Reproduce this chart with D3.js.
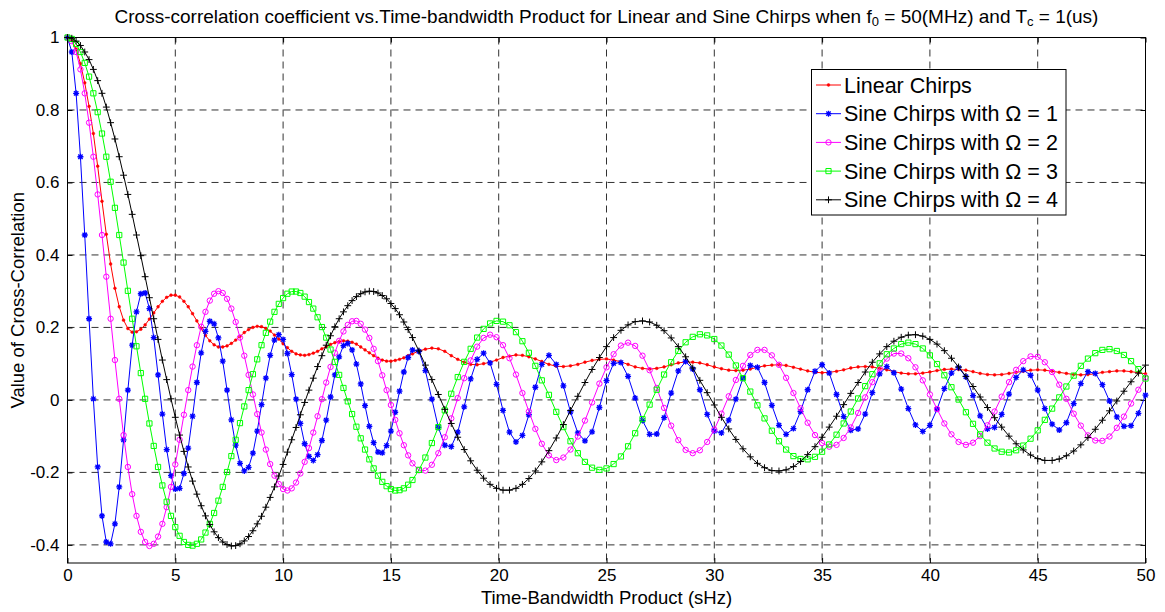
<!DOCTYPE html>
<html>
<head>
<meta charset="utf-8">
<script src="https://cdn.jsdelivr.net/npm/d3@7"></script>
<style>
  body { margin: 0; background: #fff; }
  text { font-family: "Liberation Sans", Arial, Helvetica, sans-serif; }
</style>
</head>
<body>
<div id="chart"></div>
<script>
//time-bandwidth product samples (sHz)
var tbp = [
  0,0.2,0.4,0.6,0.8,1,1.2,1.4,1.6,1.8,
  2,2.2,2.4,2.6,2.8,3,3.2,3.4,3.6,3.8,
  4,4.2,4.4,4.6,4.8,5,5.2,5.4,5.6,5.8,
  6,6.2,6.4,6.6,6.8,7,7.2,7.4,7.6,7.8,
  8,8.2,8.4,8.6,8.8,9,9.2,9.4,9.6,9.8,
  10,10.2,10.4,10.6,10.8,11,11.2,11.4,11.6,11.8,
  12,12.2,12.4,12.6,12.8,13,13.2,13.4,13.6,13.8,
  14,14.2,14.4,14.6,14.8,15,15.2,15.4,15.6,15.8,
  16,
  16.3,16.6,16.9,17.2,17.5,17.8,18.1,18.4,18.7,19,
  19.3,19.6,19.9,20.2,20.5,20.8,21.1,21.4,21.7,22,
  22.33,22.67,23,23.33,23.67,24,24.33,24.67,25,25.33,25.67,26,
  26.33,26.67,27,27.33,27.67,28,28.33,28.67,29,29.33,29.67,30,
  30.33,30.67,31,31.33,31.67,32,32.33,32.67,33,33.33,33.67,34,
  34.33,34.67,35,35.33,35.67,36,36.33,36.67,37,37.33,37.67,38,
  38.33,38.67,39,39.33,39.67,40,40.33,40.67,41,41.33,41.67,42,
  42.33,42.67,43,43.33,43.67,44,44.33,44.67,45,45.33,45.67,46,
  46.33,46.67,47,47.33,47.67,48,48.33,48.67,49,49.33,49.67,50
];

var linearChirp = [
  1,0.992,0.968,0.928,0.875,0.81,0.735,0.645,0.548,0.457,
  0.375,0.308,0.257,0.22,0.197,0.187,0.188,0.195,0.207,0.223,
  0.24,0.257,0.272,0.283,0.289,0.289,0.284,0.272,0.257,0.238,
  0.218,0.197,0.178,0.163,0.152,0.146,0.146,0.149,0.156,0.165,
  0.175,0.186,0.194,0.2,0.203,0.202,0.197,0.19,0.179,0.168,
  0.155,0.144,0.134,0.127,0.124,0.123,0.125,0.129,0.134,0.141,
  0.147,0.153,0.158,0.161,0.163,0.162,0.159,0.154,0.146,0.138,
  0.13,0.122,0.115,0.11,0.107,0.107,0.109,0.112,0.116,0.122,
  0.127,
  0.135,0.14,0.143,0.141,0.134,0.122,0.112,0.104,0.098,0.097,
  0.1,0.104,0.11,0.117,0.121,0.124,0.123,0.119,0.113,0.106,
  0.098,0.093,0.092,0.094,0.098,0.104,0.109,0.112,0.113,0.11,0.105,0.098,
  0.091,0.087,0.085,0.087,0.091,0.097,0.102,0.105,0.104,0.102,0.097,0.091,
  0.086,0.082,0.081,0.082,0.085,0.09,0.094,0.096,0.097,0.095,0.09,0.085,
  0.08,0.076,0.075,0.076,0.079,0.083,0.088,0.091,0.092,0.091,0.087,0.083,
  0.078,0.074,0.072,0.072,0.074,0.077,0.081,0.084,0.085,0.084,0.082,0.078,
  0.073,0.07,0.069,0.07,0.073,0.076,0.079,0.082,0.083,0.082,0.079,0.076,
  0.073,0.07,0.069,0.07,0.072,0.076,0.078,0.08,0.08,0.078,0.075,0.072
];

var sineOmega1 = [
  1,0.96,0.846,0.671,0.455,0.224,0.003,-0.185,-0.32,-0.392,
  -0.397,-0.342,-0.24,-0.11,0.027,0.151,0.243,0.293,0.295,0.252,
  0.172,0.069,-0.039,-0.137,-0.209,-0.246,-0.244,-0.203,-0.133,-0.045,
  0.048,0.13,0.189,0.217,0.21,0.171,0.107,0.027,-0.055,-0.125,
  -0.175,-0.196,-0.186,-0.147,-0.086,-0.013,0.06,0.123,0.165,0.18,
  0.167,0.128,0.07,0.002,-0.065,-0.121,-0.156,-0.167,-0.151,-0.112,
  -0.056,0.008,0.069,0.119,0.15,0.156,0.138,0.099,0.044,-0.016,
  -0.073,-0.118,-0.144,-0.146,-0.126,-0.086,-0.034,0.024,0.077,0.117,
  0.138,
  0.134,0.081,0.002,-0.076,-0.125,-0.129,-0.089,-0.019,0.058,0.112,
  0.129,0.102,0.043,-0.029,-0.089,-0.116,-0.098,-0.041,0.035,0.098,
  0.123,0.098,0.039,-0.033,-0.091,-0.113,-0.088,-0.021,0.053,0.101,0.103,0.065,
  0.005,-0.057,-0.095,-0.094,-0.049,0.019,0.08,0.106,0.085,0.028,-0.04,-0.086,
  -0.091,-0.056,0.002,0.06,0.095,0.09,0.048,-0.015,-0.07,-0.095,-0.079,-0.032,
  0.028,0.079,0.097,0.074,0.015,-0.046,-0.084,-0.08,-0.039,0.02,0.072,0.092,
  0.075,0.03,-0.024,-0.069,-0.087,-0.07,-0.026,0.031,0.074,0.089,0.064,0.012,
  -0.044,-0.08,-0.076,-0.04,0.016,0.062,0.083,0.068,0.027,-0.024,-0.067,-0.083,
  -0.063,-0.01,0.045,0.078,0.073,0.042,-0.003,-0.047,-0.073,-0.071,-0.037,0.013
];

var sineOmega2 = [
  1,0.99,0.96,0.912,0.846,0.765,0.671,0.567,0.455,0.34,
  0.224,0.11,0.003,-0.097,-0.185,-0.26,-0.32,-0.364,-0.392,-0.403,
  -0.397,-0.377,-0.342,-0.296,-0.24,-0.178,-0.11,-0.041,0.027,0.092,
  0.151,0.202,0.243,0.274,0.293,0.3,0.295,0.279,0.252,0.215,
  0.172,0.122,0.069,0.015,-0.039,-0.09,-0.137,-0.177,-0.209,-0.232,
  -0.246,-0.25,-0.244,-0.228,-0.203,-0.171,-0.133,-0.09,-0.045,0.002,
  0.048,0.091,0.13,0.163,0.189,0.207,0.217,0.218,0.21,0.194,
  0.171,0.141,0.107,0.068,0.027,-0.014,-0.055,-0.092,-0.125,-0.153,
  -0.175,
  -0.194,-0.195,-0.179,-0.147,-0.103,-0.051,0.005,0.06,0.109,0.147,
  0.171,0.18,0.173,0.151,0.115,0.07,0.019,-0.032,-0.08,-0.121,
  -0.153,-0.166,-0.159,-0.137,-0.101,-0.057,-0.007,0.045,0.09,0.126,0.15,0.158,
  0.149,0.122,0.082,0.033,-0.022,-0.071,-0.111,-0.138,-0.147,-0.139,-0.116,-0.082,
  -0.038,0.01,0.055,0.094,0.124,0.138,0.138,0.123,0.097,0.061,0.019,-0.023,
  -0.063,-0.097,-0.119,-0.129,-0.124,-0.105,-0.076,-0.036,0.007,0.049,0.087,0.114,
  0.128,0.128,0.115,0.09,0.054,0.015,-0.025,-0.065,-0.095,-0.116,-0.124,-0.118,
  -0.1,-0.07,-0.032,0.009,0.049,0.083,0.107,0.12,0.119,0.104,0.077,0.042,
  0.003,-0.038,-0.071,-0.098,-0.112,-0.113,-0.101,-0.077,-0.046,-0.01,0.028,0.062
];

var sineOmega3 = [
  1,0.996,0.982,0.96,0.93,0.892,0.846,0.794,0.735,0.671,
  0.602,0.53,0.455,0.379,0.301,0.224,0.148,0.074,0.003,-0.065,
  -0.127,-0.185,-0.236,-0.281,-0.32,-0.351,-0.375,-0.392,-0.4,-0.402,
  -0.397,-0.385,-0.366,-0.342,-0.312,-0.278,-0.24,-0.199,-0.155,-0.11,
  -0.064,-0.018,0.027,0.071,0.112,0.151,0.185,0.216,0.243,0.265,
  0.281,0.293,0.299,0.299,0.295,0.285,0.27,0.252,0.228,0.201,
  0.172,0.139,0.105,0.069,0.033,-0.004,-0.039,-0.074,-0.106,-0.137,
  -0.164,-0.189,-0.209,-0.226,-0.238,-0.246,-0.25,-0.249,-0.244,-0.234,
  -0.221,
  -0.193,-0.159,-0.119,-0.075,-0.029,0.017,0.063,0.105,0.141,0.172,
  0.196,0.211,0.218,0.216,0.206,0.187,0.162,0.13,0.094,0.054,
  0.014,-0.033,-0.075,-0.114,-0.147,-0.171,-0.187,-0.193,-0.189,-0.177,-0.156,-0.128,
  -0.092,-0.053,-0.013,0.028,0.07,0.104,0.135,0.159,0.174,0.181,0.178,0.168,
  0.15,0.125,0.095,0.06,0.023,-0.015,-0.051,-0.085,-0.114,-0.137,-0.155,-0.163,
  -0.164,-0.157,-0.143,-0.123,-0.096,-0.065,-0.032,0.004,0.038,0.071,0.101,0.126,
  0.142,0.154,0.158,0.154,0.142,0.123,0.099,0.068,0.035,0.001,-0.034,-0.066,
  -0.095,-0.118,-0.134,-0.143,-0.145,-0.139,-0.126,-0.107,-0.084,-0.055,-0.024,0.007,
  0.037,0.067,0.094,0.114,0.129,0.138,0.14,0.135,0.124,0.107,0.085,0.059
];

var sineOmega4 = [
  1,0.998,0.99,0.978,0.96,0.939,0.912,0.881,0.846,0.808,
  0.765,0.72,0.671,0.62,0.567,0.512,0.455,0.398,0.34,0.282,
  0.224,0.167,0.11,0.056,0.003,-0.048,-0.097,-0.142,-0.185,-0.224,
  -0.26,-0.292,-0.32,-0.344,-0.364,-0.38,-0.392,-0.399,-0.403,-0.402,
  -0.397,-0.389,-0.377,-0.361,-0.342,-0.321,-0.296,-0.269,-0.24,-0.21,
  -0.178,-0.144,-0.11,-0.076,-0.041,-0.007,0.027,0.06,0.092,0.122,
  0.151,0.177,0.202,0.224,0.243,0.26,0.274,0.285,0.293,0.298,
  0.3,0.299,0.295,0.288,0.279,0.266,0.252,0.235,0.215,0.194,
  0.172,
  0.135,0.096,0.056,0.015,-0.026,-0.065,-0.103,-0.137,-0.168,-0.194,
  -0.216,-0.233,-0.244,-0.249,-0.249,-0.244,-0.233,-0.217,-0.196,-0.171,
  -0.14,-0.105,-0.068,-0.029,0.01,0.048,0.084,0.117,0.147,0.172,0.192,0.207,
  0.216,0.218,0.215,0.206,0.191,0.171,0.147,0.119,0.088,0.054,0.02,-0.014,
  -0.048,-0.08,-0.109,-0.135,-0.157,-0.175,-0.187,-0.195,-0.196,-0.193,-0.184,-0.17,
  -0.151,-0.129,-0.103,-0.075,-0.045,-0.013,0.018,0.048,0.077,0.104,0.127,0.147,
  0.162,0.173,0.179,0.18,0.176,0.167,0.154,0.136,0.115,0.091,0.065,0.037,
  0.008,-0.021,-0.049,-0.075,-0.1,-0.121,-0.138,-0.152,-0.162,-0.167,-0.167,-0.163,
  -0.154,-0.141,-0.124,-0.104,-0.081,-0.056,-0.03,-0.003,0.024,0.05,0.074,0.096
];

var xTicks = [0, 5, 10, 15, 20, 25, 30, 35, 40, 45, 50];
var yTicks = [-0.4, -0.2, 0, 0.2, 0.4, 0.6, 0.8, 1];
var yTickLabels = ['-0.4', '-0.2', '0', '0.2', '0.4', '0.6', '0.8', '1'];
var seriesNames = [
  'Linear Chirps',
  'Sine Chirps with \u03A9 = 1',
  'Sine Chirps with \u03A9 = 2',
  'Sine Chirps with \u03A9 = 3',
  'Sine Chirps with \u03A9 = 4'
];

var width = 1165;
var height = 612;
var box = {left: 67.5, right: 1145.5, top: 37.5, bottom: 563};
var fontFamily = '"Liberation Sans", Arial, Helvetica, sans-serif';

//marker shapes, matlab style
var markers = {
  dot: 'M1.4,0A1.4,1.4 0 1,1 -1.4,0A1.4,1.4 0 1,1 1.4,0Z',
  star: 'M-3,0H3M0,-3V3M-2.2,-2.2L2.2,2.2M-2.2,2.2L2.2,-2.2',
  circle: 'M2.7,0A2.7,2.7 0 1,1 -2.7,0A2.7,2.7 0 1,1 2.7,0Z',
  square: 'M-2.6,-2.6H2.6V2.6H-2.6Z',
  plus: 'M-3.4,0H3.4M0,-3.4V3.4'
};

var series = [
  {values: linearChirp, color: '#ff0000', marker: 'dot', mw: 0.5},
  {values: sineOmega1, color: '#0000ff', marker: 'star', mw: 1.3},
  {values: sineOmega2, color: '#ff00ff', marker: 'circle', mw: 1},
  {values: sineOmega3, color: '#00ff00', marker: 'square', mw: 1},
  {values: sineOmega4, color: '#000000', marker: 'plus', mw: 1}
];

var x = d3.scaleLinear().domain([0, 50]).range([box.left, box.right]);
var y = d3.scaleLinear().domain([-0.45, 1]).range([box.bottom, box.top]);

var svg = d3.select('#chart')
    .append('svg')
    .attr('width', width)
    .attr('height', height);

svg.append('rect')
    .attr('width', width)
    .attr('height', height)
    .attr('fill', '#ffffff');

//dashed grid
var grid = svg.append('g')
    .attr('stroke', '#000')
    .attr('stroke-width', 1)
    .attr('stroke-dasharray', '7,5')
    .attr('opacity', 0.8);
grid.selectAll('line.gx')
    .data(xTicks.slice(1, -1))
    .join('line')
    .attr('class', 'gx')
    .attr('x1', d => x(d)).attr('x2', d => x(d))
    .attr('y1', box.top).attr('y2', box.bottom);
grid.selectAll('line.gy')
    .data(yTicks.slice(0, -1))
    .join('line')
    .attr('class', 'gy')
    .attr('x1', box.left).attr('x2', box.right)
    .attr('y1', d => y(d)).attr('y2', d => y(d));

//axes with inward ticks
function styleAxis(g) {
    g.select('.domain').remove();
    g.attr('font-family', fontFamily).attr('font-size', 17);
    g.selectAll('.tick line').attr('stroke', '#000');
    g.selectAll('.tick text').attr('fill', '#000');
}

svg.append('g')
    .attr('transform', 'translate(0,' + box.bottom + ')')
    .call(d3.axisBottom(x).tickValues(xTicks).tickSize(-5).tickPadding(6).tickFormat(d3.format('d')))
    .call(styleAxis);
svg.append('g')
    .attr('transform', 'translate(0,' + box.top + ')')
    .call(d3.axisTop(x).tickValues(xTicks).tickSize(-5).tickFormat(''))
    .call(styleAxis);
svg.append('g')
    .attr('transform', 'translate(' + box.left + ',0)')
    .call(d3.axisLeft(y).tickValues(yTicks).tickSize(-5).tickPadding(8).tickFormat((d, i) => yTickLabels[i]))
    .call(styleAxis);
svg.append('g')
    .attr('transform', 'translate(' + box.right + ',0)')
    .call(d3.axisRight(y).tickValues(yTicks).tickSize(-5).tickFormat(''))
    .call(styleAxis);

svg.append('rect')
    .attr('x', box.left)
    .attr('y', box.top)
    .attr('width', box.right - box.left)
    .attr('height', box.bottom - box.top)
    .attr('fill', 'none')
    .attr('stroke', '#000')
    .attr('stroke-width', 1);

//curves and markers
var line = d3.line()
    .x(d => x(d[0]))
    .y(d => y(d[1]));

series.forEach(function(s) {
    var points = tbp.map((t, i) => [t, s.values[i]]);
    var g = svg.append('g');
    g.append('path')
        .datum(points)
        .attr('fill', 'none')
        .attr('stroke', s.color)
        .attr('stroke-width', 1)
        .attr('d', line);
    g.selectAll('path.mk')
        .data(points)
        .join('path')
        .attr('class', 'mk')
        .attr('transform', d => 'translate(' + x(d[0]) + ',' + y(d[1]) + ')')
        .attr('d', markers[s.marker])
        .attr('fill', s.marker === 'dot' ? s.color : 'none')
        .attr('stroke', s.color)
        .attr('stroke-width', s.mw);
});

//legend
var legend = svg.append('g');
legend.append('rect')
    .attr('x', 811.5)
    .attr('y', 69.5)
    .attr('width', 254.5)
    .attr('height', 145.5)
    .attr('fill', '#ffffff')
    .attr('stroke', '#000')
    .attr('stroke-width', 1);

var rows = legend.selectAll('g.row')
    .data(series)
    .join('g')
    .attr('class', 'row')
    .attr('transform', (d, i) => 'translate(0,' + (85 + i * 28.7) + ')');
rows.append('line')
    .attr('x1', 816).attr('x2', 841)
    .attr('stroke', d => d.color)
    .attr('stroke-width', 1);
rows.append('path')
    .attr('transform', 'translate(828.5,0)')
    .attr('d', d => markers[d.marker])
    .attr('fill', d => d.marker === 'dot' ? d.color : 'none')
    .attr('stroke', d => d.color)
    .attr('stroke-width', d => d.mw);
rows.append('text')
    .attr('x', 844)
    .attr('y', 7.5)
    .attr('font-size', 21.5)
    .attr('fill', '#000')
    .text((d, i) => seriesNames[i]);

//title with subscripts
var title = svg.append('text')
    .attr('x', (box.left + box.right) / 2)
    .attr('y', 23)
    .attr('text-anchor', 'middle')
    .attr('font-size', 19)
    .attr('fill', '#000');
title.append('tspan').text('Cross-correlation coefficient vs.Time-bandwidth Product for Linear and Sine Chirps when f');
title.append('tspan').attr('font-size', 13).attr('dy', 3).text('0');
title.append('tspan').attr('dy', -3).text(' = 50(MHz) and T');
title.append('tspan').attr('font-size', 13).attr('dy', 3).text('c');
title.append('tspan').attr('dy', -3).text(' = 1(us)');

//axis labels
svg.append('text')
    .attr('x', (box.left + box.right) / 2)
    .attr('y', 604)
    .attr('text-anchor', 'middle')
    .attr('font-size', 18.5)
    .attr('fill', '#000')
    .text('Time-Bandwidth Product (sHz)');

svg.append('text')
    .attr('transform', 'translate(24,' + ((box.top + box.bottom) / 2) + ') rotate(-90)')
    .attr('text-anchor', 'middle')
    .attr('font-size', 18.5)
    .attr('fill', '#000')
    .text('Value of Cross-Correlation');
</script>
</body>
</html>
